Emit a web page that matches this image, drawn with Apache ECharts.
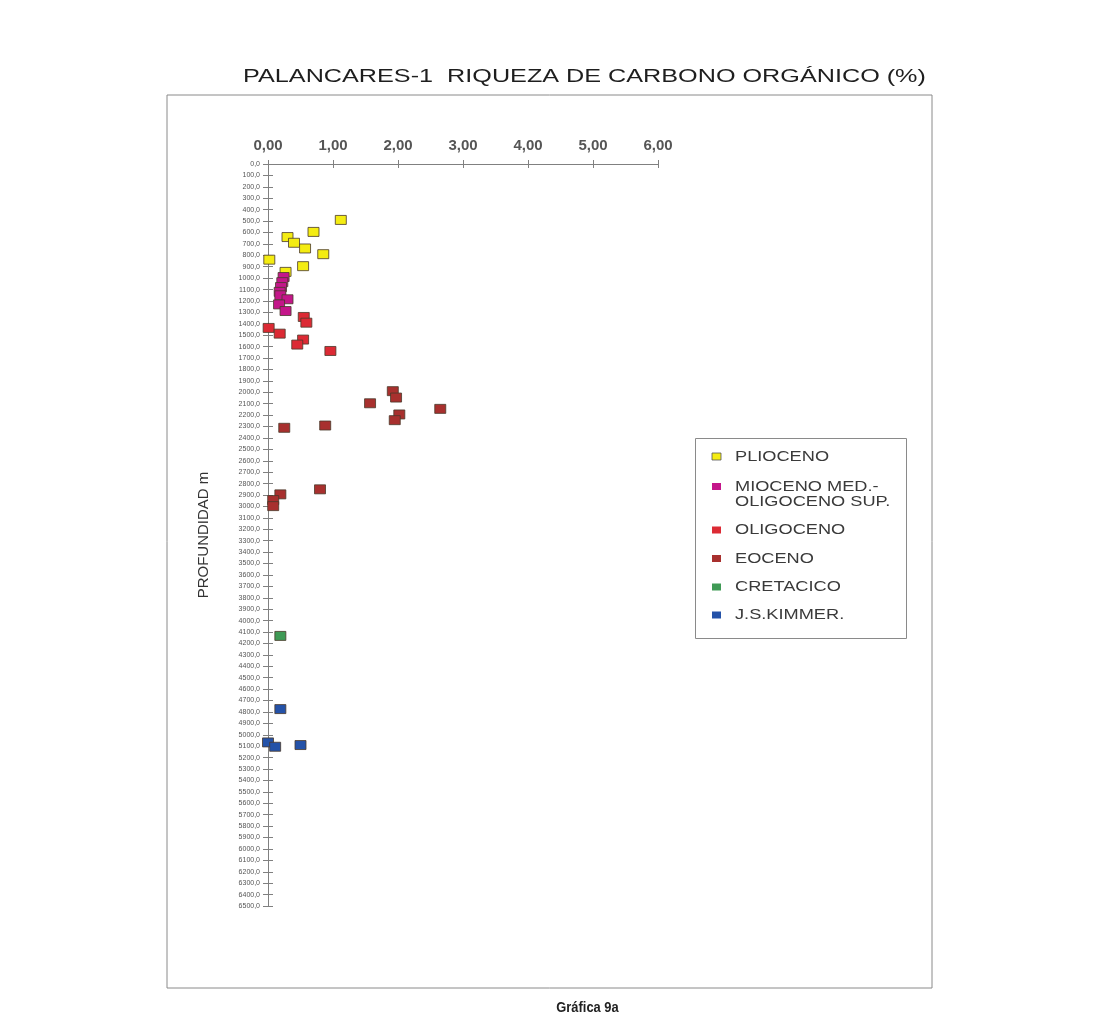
<!DOCTYPE html>
<html>
<head>
<meta charset="utf-8">
<script src="https://cdn.jsdelivr.net/npm/echarts@6/dist/echarts.min.js"></script>
<style>html,body{margin:0;padding:0;background:#fff;}#c{width:1113px;height:1032px;}</style>
</head>
<body>
<div id="c"></div>
<script>
// TOC (%) values and depths (m)
const pliocenoToc   = [1.12, 0.70, 0.30, 0.40, 0.57, 0.85, 0.02, 0.54, 0.27];
const pliocenoDepth = [490, 595, 640, 690, 740, 790, 838, 895, 945];
const miocenoToc    = [0.24, 0.22, 0.20, 0.18, 0.19, 0.30, 0.17, 0.27];
const miocenoDepth  = [990, 1035, 1078, 1120, 1150, 1185, 1230, 1288];
const oligocenoToc  = [0.55, 0.59, 0.01, 0.18, 0.54, 0.45, 0.96];
const oligocenoDepth= [1340, 1390, 1436, 1486, 1538, 1582, 1638];
const eocenoToc     = [1.92, 1.97, 1.57, 2.65, 2.02, 1.95, 0.88, 0.25, 0.80, 0.19, 0.08, 0.08];
const eocenoDepth   = [1990, 2046, 2096, 2145, 2194, 2244, 2291, 2311, 2850, 2894, 2944, 2997];
const cretacicoToc  = [0.19];
const cretacicoDepth= [4134];
const kimmerToc     = [0.19, 0.00, 0.11, 0.50];
const kimmerDepth   = [4775, 5067, 5105, 5090];

const seriesNames = ['PLIOCENO', 'MIOCENO MED.-\nOLIGOCENO SUP.', 'OLIGOCENO', 'EOCENO', 'CRETACICO', 'J.S.KIMMER.'];
const seriesColors = ['#f4ec12', '#c4168a', '#dc2a34', '#a8302e', '#3f9a55', '#2452a8'];
const seriesToc = [pliocenoToc, miocenoToc, oligocenoToc, eocenoToc, cretacicoToc, kimmerToc];
const seriesDepth = [pliocenoDepth, miocenoDepth, oligocenoDepth, eocenoDepth, cretacicoDepth, kimmerDepth];

const FONT = 'Liberation Sans, Arial, sans-serif';
const chart = echarts.init(document.getElementById('c'), null, {renderer: 'canvas'});

const gridPos = {left: 268, top: 164, width: 390, height: 742};
const commonX = {type: 'value', min: 0, max: 6, interval: 1, position: 'top', gridIndex: 0, splitLine: {show: false}};
const commonY = {type: 'value', min: 0, max: 6500, interval: 100, inverse: true, position: 'left', gridIndex: 0, splitLine: {show: false}};

// legend drawn as graphic so the horizontally-stretched scan lettering can be matched
const legendRowsY = [456.5, 486.5, 530, 558.5, 587, 615];
const legendGraphics = [];
seriesNames.forEach((name, i) => {
  legendGraphics.push({
    type: 'rect', silent: true,
    shape: {x: 712, y: legendRowsY[i] - 3.5, width: 9, height: 7},
    style: {fill: seriesColors[i], stroke: i === 0 ? '#555' : null, lineWidth: i === 0 ? 0.8 : 0}
  });
  legendGraphics.push({
    type: 'text', silent: true, x: 735, y: legendRowsY[i] - 7, scaleX: 1.3,
    style: {text: name, font: '14px ' + FONT, fill: '#3a3a3a', lineHeight: 15, verticalAlign: 'top', align: 'left'}
  });
});

const option = {
  backgroundColor: '#ffffff',
  animation: false,
  grid: gridPos,
  legend: {show: false, data: seriesNames},
  xAxis: [
    Object.assign({}, commonX, {
      axisLine: {show: true, lineStyle: {color: '#808080', width: 1}},
      axisTick: {show: true, length: 4, lineStyle: {color: '#808080'}},
      axisLabel: {show: true, margin: 11, fontFamily: FONT, fontSize: 15, fontWeight: 'bold', color: '#555',
        formatter: v => v.toFixed(2).replace('.', ',')}
    }),
    Object.assign({}, commonX, {
      axisLine: {show: false},
      axisTick: {show: true, inside: true, length: 4, lineStyle: {color: '#808080'}},
      axisLabel: {show: false}
    })
  ],
  yAxis: [
    Object.assign({}, commonY, {
      name: 'PROFUNDIDAD m', nameLocation: 'middle', nameGap: 57, nameRotate: 90,
      nameTextStyle: {fontFamily: FONT, fontSize: 15, color: '#333'},
      axisLine: {show: true, lineStyle: {color: '#808080', width: 1}},
      axisTick: {show: true, length: 5, interval: 0, lineStyle: {color: '#808080'}},
      axisLabel: {show: true, interval: 0, margin: 8, fontFamily: FONT, fontSize: 7, color: '#555',
        formatter: v => v.toFixed(1).replace('.', ',')}
    }),
    Object.assign({}, commonY, {
      axisLine: {show: false},
      axisTick: {show: true, inside: true, length: 5, interval: 0, lineStyle: {color: '#808080'}},
      axisLabel: {show: false}
    })
  ],
  graphic: [
    {type: 'rect', silent: true, shape: {x: 167, y: 95, width: 765, height: 893}, style: {fill: 'none', stroke: '#8a8a8a', lineWidth: 1}},
    {type: 'rect', silent: true, shape: {x: 695.5, y: 438.5, width: 211, height: 200}, style: {fill: 'none', stroke: '#8a8a8a', lineWidth: 1}},
    {type: 'text', silent: true, x: 584.5, y: 77, scaleX: 1.4,
      style: {text: 'PALANCARES-1  RIQUEZA DE CARBONO ORGÁNICO (%)', font: '18px ' + FONT, fill: '#1e1e1e', align: 'center', verticalAlign: 'middle'}},
    {type: 'text', silent: true, x: 587.5, y: 1008, scaleX: 0.86,
      style: {text: 'Gráfica 9a', font: 'bold 15px ' + FONT, fill: '#222', align: 'center', verticalAlign: 'middle'}}
  ].concat(legendGraphics),
  series: seriesNames.map((name, i) => ({
    name: name,
    type: 'scatter',
    xAxisIndex: 0, yAxisIndex: 0,
    symbol: 'rect', symbolSize: [11, 9],
    itemStyle: {color: seriesColors[i], borderColor: '#4a3a2a', borderWidth: 0.8, opacity: 1},
    data: seriesToc[i].map((t, k) => [t, seriesDepth[i][k]])
  }))
};
chart.setOption(option);
</script>
</body>
</html>
